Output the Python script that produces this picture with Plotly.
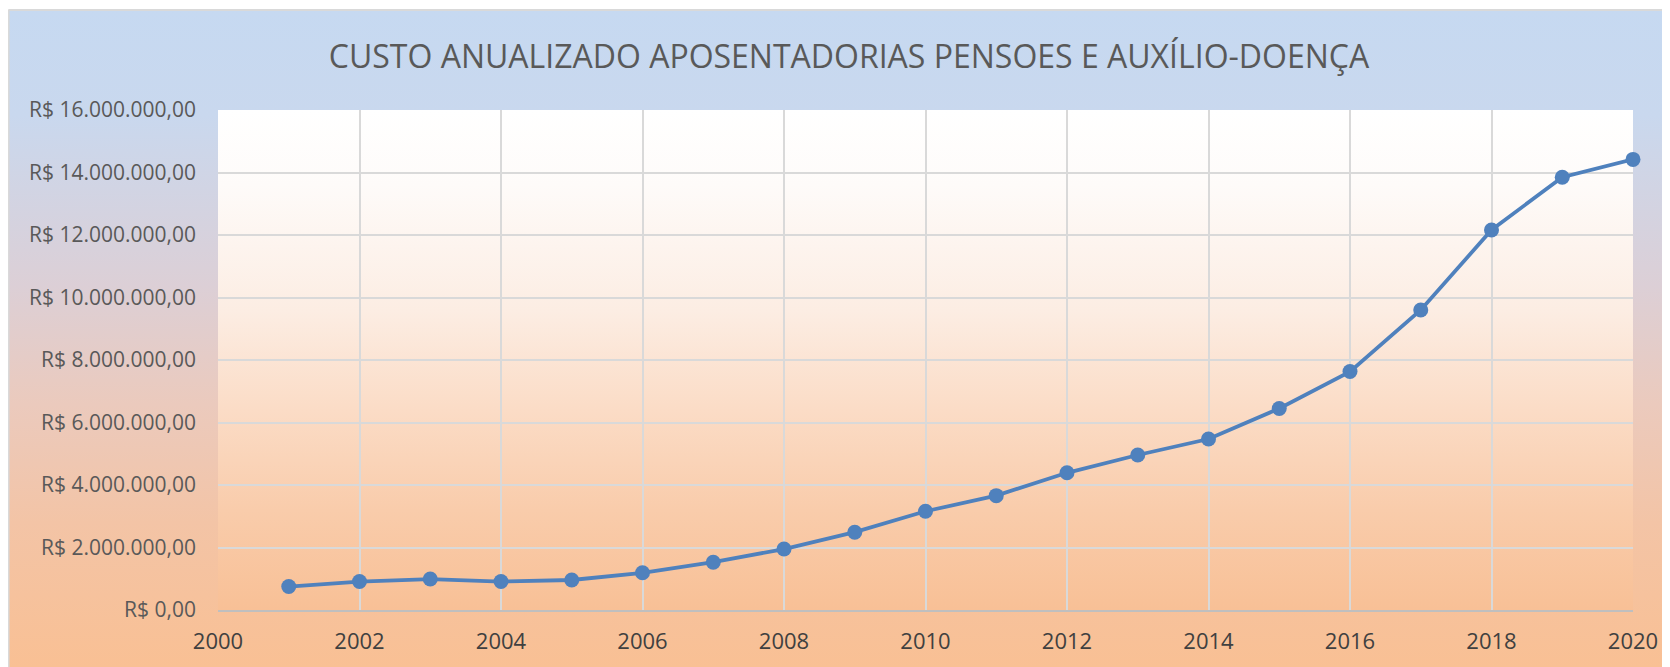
import base64
import plotly.graph_objects as go

years = list(range(2001, 2021))
custo = [750000, 910000, 990000, 910000, 960000, 1190000, 1530000, 1950000,
         2490000, 3160000, 3660000, 4390000, 4960000, 5470000, 6450000,
         7630000, 9600000, 12160000, 13850000, 14420000]

title_text = "CUSTO ANUALIZADO APOSENTADORIAS PENSOES E AUXÍLIO-DOENÇA"

# page has an 8px body margin, so the figure is sized to fit the window
W, H = 1662, 659
L, R, T, B = 210, 35, 102, 57
pw, ph = W - L - R, H - T - B


def svg_uri(stops):
    st = "".join(f'<stop offset="{o}" stop-color="{c}"/>' for o, c in stops)
    svg = (f'<svg xmlns="http://www.w3.org/2000/svg" width="100" height="100" viewBox="0 0 100 100" preserveAspectRatio="none">'
           f'<defs><linearGradient id="g" x1="0" y1="0" x2="0" y2="1">{st}</linearGradient></defs>'
           f'<rect x="0" y="0" width="100" height="100" fill="url(#g)"/></svg>')
    return "data:image/svg+xml;base64," + base64.b64encode(svg.encode()).decode()


outer = svg_uri([(0, "#c6d9f1"), (0.16, "#c9d8ee"), (0.42, "#dccfd6"),
                 (0.6, "#ebcabd"), (0.78, "#f3c4a6"), (1, "#f9c094")])
inner = svg_uri([(0, "#ffffff"), (0.15, "#fefbf9"), (0.4, "#fcede3"),
                 (0.6, "#fbdcc6"), (0.8, "#f9ccab"), (1, "#f8c096")])


def px_x(p):
    return (p - L) / pw


def px_y(p):
    return (H - B - p) / ph


fig = go.Figure()
fig.add_trace(go.Scatter(
    x=years, y=custo, mode="lines+markers",
    line=dict(color="#4f81bd", width=3.8),
    marker=dict(color="#4f81bd", size=15),
    showlegend=False, cliponaxis=False,
))

fig.update_layout(
    width=W, height=H,
    margin=dict(l=L, r=R, t=T, b=B),
    paper_bgcolor="white",
    plot_bgcolor="rgba(0,0,0,0)",
    separators=",.",
    title=dict(text=title_text, x=841 / W, xanchor="center", y=1 - 49 / H, yanchor="middle",
               font=dict(family="Open Sans", size=32, color="#595959")),
    images=[
        dict(source=outer, xref="paper", yref="paper",
             x=px_x(0), y=px_y(2), sizex=W / pw, sizey=(H - 2) / ph,
             xanchor="left", yanchor="top", sizing="stretch", layer="below"),
        dict(source=inner, xref="paper", yref="paper",
             x=0, y=1, sizex=1, sizey=1,
             xanchor="left", yanchor="top", sizing="stretch", layer="below"),
    ],
    shapes=[
        dict(type="line", xref="paper", yref="paper", x0=px_x(0), x1=px_x(W), y0=px_y(2), y1=px_y(2),
             line=dict(color="#d9d9d9", width=2), layer="below"),
        dict(type="line", xref="paper", yref="paper", x0=px_x(0.5), x1=px_x(0.5), y0=px_y(2), y1=px_y(H),
             line=dict(color="#d9d9d9", width=1.5), layer="below"),
    ],
    xaxis=dict(range=[2000, 2020], dtick=2, tick0=2000, showgrid=True,
               gridcolor="#d9d9d9", gridwidth=1.5, zeroline=False,
               showline=True, linecolor="#bfbfbf", linewidth=1.5,
               ticks="", ticklabelstandoff=11,
               tickfont=dict(family="Open Sans", size=22, color="#404040")),
    yaxis=dict(range=[0, 16000000], dtick=2000000, showgrid=True,
               gridcolor="#d9d9d9", gridwidth=1.5, zeroline=False,
               showline=False, ticks="", tickprefix="R$ ", tickformat=",.2f",
               ticklabelstandoff=21,
               tickfont=dict(family="Open Sans", size=21, color="#595959")),
)

fig.write_html("out.html")
